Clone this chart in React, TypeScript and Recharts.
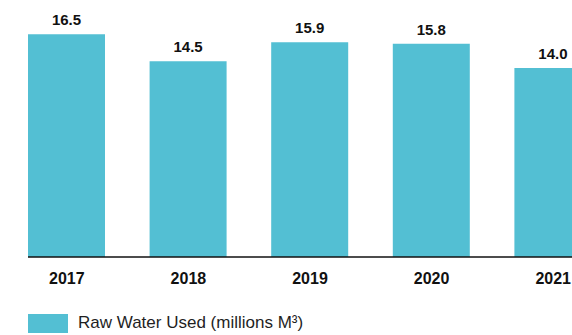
import { BarChart, Bar, XAxis, YAxis, LabelList, Legend } from "recharts";

const years = ["2017", "2018", "2019", "2020", "2021"];
const rawWater = [16.5, 14.5, 15.9, 15.8, 14.0];

const data = years.map((year, i) => ({ year, value: rawWater[i] }));

const FONT = "'Liberation Sans', Arial, Helvetica, sans-serif";
const BAR_COLOR = "#53bfd3";

const renderLegend = ({ payload }: any) => (
  <div style={{ display: "flex", alignItems: "center", fontFamily: FONT }}>
    {(payload || []).map((entry: any, index: any) => (
      <div key={`item-${index}`} style={{ display: "flex", alignItems: "center" }}>
        <span
          style={{
            display: "inline-block",
            width: 40,
            height: 19,
            background: BAR_COLOR,
            marginRight: 10,
          }}
        />
        <span style={{ fontSize: 17, color: "#1f1f1f", whiteSpace: "nowrap" }}>
          {entry.value}
        </span>
      </div>
    ))}
  </div>
);

const App = () => {
  return (
    <div
      style={{
        position: "absolute",
        left: 0,
        top: 0,
        width: 572,
        height: 335,
        overflow: "hidden",
        background: "#fff",
      }}
    >
      <BarChart
        width={614}
        height={335}
        data={data}
        margin={{ top: 14, right: 0, bottom: 48, left: 28 }}
      >
        <XAxis
          dataKey="year"
          height={30}
          padding={{ left: -22, right: 0 }}
          tickLine={false}
          tickSize={0}
          tickMargin={16}
          axisLine={{ stroke: "#111", strokeWidth: 1.3 }}
          tick={{ fill: "#111", fontSize: 16, fontWeight: 700, fontFamily: FONT }}
        />
        <YAxis hide domain={[0, 18]} />
        <Legend
          layout="horizontal"
          verticalAlign="middle"
          align="center"
          content={renderLegend}
          wrapperStyle={{ left: 28, top: 313, width: "auto", height: 19 }}
        />
        <Bar
          dataKey="value"
          name="Raw Water Used (millions M³)"
          fill={BAR_COLOR}
          barSize={77}
          isAnimationActive={false}
        >
          <LabelList
            dataKey="value"
            position="top"
            offset={9}
            formatter={(v: any) => Number(v).toFixed(1)}
            style={{ fill: "#111", fontSize: 15, fontWeight: 700, fontFamily: FONT }}
          />
        </Bar>
      </BarChart>
    </div>
  );
};

export default App;
